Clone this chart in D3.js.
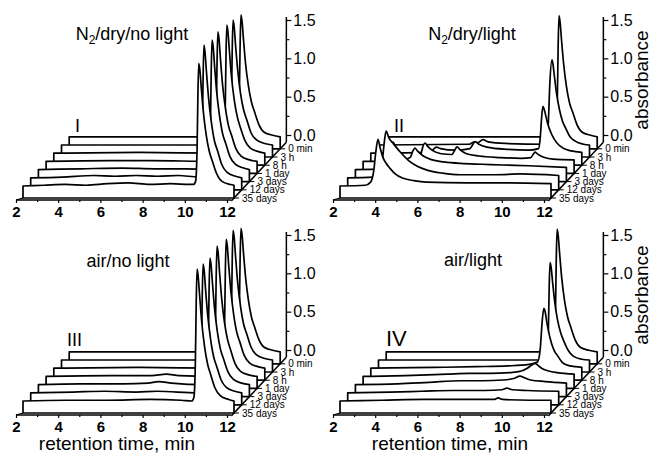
<!DOCTYPE html>
<html>
<head>
<meta charset="utf-8">
<script src="https://cdn.jsdelivr.net/npm/d3@7"></script>
<style>
body{margin:0;background:#fff}
svg{display:block}
text{font-family:"Liberation Sans",Arial,sans-serif;fill:#000}
</style>
</head>
<body>
<svg width="654" height="453"></svg>
<script>
// slices, back (0 min) to front (35 days)
var sliceLabels = ["0 min","3 h","8 h","1 day","3 days","12 days","35 days"];
var xTicks = [2,4,6,8,10,12];
var xMinor = [3,5,7,9,11];
var yTicks = [0,0.5,1.0,1.5];
var yMinor = [0.25,0.75,1.25];

// [retention time (min), absorbance]
var n2DryNoLight = [
 [[2,0],[9.89,0],[9.99,0.05],[10.06,0.48],[10.10,1.19],[10.14,1.59],[10.19,1.51],[10.26,1.27],[10.36,0.95],[10.49,0.67],[10.64,0.45],[10.79,0.32],[10.99,0.16],[11.24,0.06],[11.64,0.02],[12,0]],
 [[2,0],[9.88,0],[9.98,0.05],[10.05,0.49],[10.09,1.22],[10.13,1.63],[10.18,1.55],[10.25,1.30],[10.35,0.98],[10.48,0.68],[10.63,0.46],[10.78,0.33],[10.98,0.16],[11.23,0.07],[11.63,0.02],[12,0]],
 [[2,0],[6,0.01],[9.95,0],[10.05,0.05],[10.12,0.50],[10.16,1.25],[10.20,1.67],[10.25,1.59],[10.32,1.34],[10.42,1.00],[10.55,0.70],[10.70,0.47],[10.85,0.33],[11.05,0.17],[11.30,0.07],[11.70,0.02],[12,0]],
 [[2,0],[5,0.01],[7,0.01],[9.89,0],[9.99,0.05],[10.06,0.51],[10.10,1.27],[10.14,1.69],[10.19,1.61],[10.26,1.35],[10.36,1.01],[10.49,0.71],[10.64,0.47],[10.79,0.34],[10.99,0.17],[11.24,0.07],[11.64,0.02],[12,0]],
 [[2,0],[4,0.01],[6,0.02],[7.5,0.01],[9,0.01],[9.98,0],[10.08,0.05],[10.15,0.51],[10.19,1.27],[10.23,1.69],[10.28,1.61],[10.35,1.35],[10.45,1.01],[10.58,0.71],[10.73,0.47],[10.88,0.34],[11.08,0.17],[11.33,0.07],[11.73,0.02],[12,0]],
 [[2,0],[3.5,0.01],[5,0.03],[6,0.02],[7,0.03],[8,0.02],[9,0.03],[9.96,0.01],[10.06,0.05],[10.13,0.52],[10.17,1.30],[10.21,1.73],[10.26,1.64],[10.33,1.38],[10.43,1.04],[10.56,0.73],[10.71,0.48],[10.86,0.35],[11.06,0.17],[11.31,0.07],[11.71,0.02],[12,0]],
 [[2,0],[3,0.01],[4,0.02],[5,0.01],[6,0.03],[7,0.04],[8,0.02],[9,0.03],[9.9,0.02],[10.08,0.02],[10.18,0.06],[10.25,0.48],[10.29,1.20],[10.33,1.60],[10.38,1.52],[10.45,1.28],[10.55,0.96],[10.68,0.67],[10.83,0.45],[10.98,0.32],[11.18,0.16],[11.43,0.06],[11.83,0.02],[12,0.01]]
];

var n2DryLight = [
 [[2,0],[9.94,0],[10.04,0.05],[10.11,0.48],[10.15,1.19],[10.19,1.58],[10.24,1.50],[10.31,1.26],[10.41,0.95],[10.54,0.66],[10.69,0.44],[10.84,0.32],[11.04,0.16],[11.29,0.06],[11.69,0.02],[12,0]],
 [[2,0],[6.3,0.01],[6.55,0.04],[6.7,0.03],[6.95,0.07],[7.2,0.04],[8,0.02],[9.85,0.01],[9.97,0.04],[10.05,0.30],[10.12,0.80],[10.22,1.11],[10.27,1.05],[10.34,0.89],[10.44,0.67],[10.57,0.47],[10.72,0.31],[10.87,0.22],[11.07,0.11],[11.32,0.05],[11.72,0.01],[12,0]],
 [[2,0],[4.8,0.01],[5.0,0.06],[5.1,0.08],[5.3,0.06],[6.0,0.04],[6.7,0.06],[6.85,0.12],[6.94,0.15],[7.1,0.12],[7.5,0.08],[8.5,0.05],[9.5,0.04],[9.95,0.06],[10.03,0.20],[10.1,0.48],[10.16,0.61],[10.22,0.57],[10.3,0.48],[10.4,0.37],[10.55,0.26],[10.7,0.18],[10.9,0.11],[11.15,0.06],[11.5,0.03],[12,0.01]],
 [[2,0],[4.5,0.01],[4.7,0.05],[4.82,0.18],[4.93,0.24],[5.05,0.20],[5.3,0.14],[5.7,0.10],[6.2,0.09],[6.35,0.15],[6.45,0.19],[6.6,0.15],[6.9,0.10],[7.5,0.07],[8.5,0.05],[9.5,0.04],[9.95,0.05],[10.08,0.10],[10.15,0.12],[10.3,0.09],[10.6,0.05],[11,0.03],[12,0.02]],
 [[2,0],[3.3,0.01],[3.55,0.08],[3.68,0.25],[3.78,0.36],[3.9,0.30],[4.1,0.20],[4.4,0.14],[4.6,0.16],[4.72,0.24],[4.82,0.28],[4.95,0.24],[5.2,0.18],[5.6,0.13],[6.2,0.10],[7,0.08],[8,0.07],[9,0.06],[10.2,0.05],[12,0.03]],
 [[2,0],[3.2,0.01],[3.5,0.06],[3.65,0.25],[3.75,0.50],[3.82,0.61],[3.95,0.52],[4.15,0.45],[4.48,0.34],[4.95,0.21],[5.3,0.15],[5.76,0.10],[6.5,0.06],[7.32,0.04],[9,0.04],[10.2,0.05],[12,0.03]],
 [[2,0],[3.2,0.01],[3.45,0.05],[3.6,0.20],[3.7,0.45],[3.8,0.61],[3.9,0.50],[4.04,0.37],[4.2,0.29],[4.37,0.23],[4.6,0.16],[5.0,0.10],[5.5,0.07],[6.1,0.05],[8,0.04],[10,0.04],[12,0.03]]
];

var airNoLight = [
 [[2,0],[9.89,0],[9.99,0.05],[10.06,0.48],[10.10,1.21],[10.14,1.61],[10.19,1.53],[10.26,1.29],[10.36,0.97],[10.49,0.68],[10.64,0.45],[10.79,0.32],[10.99,0.16],[11.24,0.06],[11.64,0.02],[12,0]],
 [[2,0],[9.88,0],[9.98,0.05],[10.05,0.51],[10.09,1.27],[10.13,1.69],[10.18,1.61],[10.25,1.35],[10.35,1.01],[10.48,0.71],[10.63,0.47],[10.78,0.34],[10.98,0.17],[11.23,0.07],[11.63,0.02],[12,0]],
 [[2,0],[6,0.01],[9.92,0],[10.02,0.05],[10.09,0.50],[10.13,1.26],[10.17,1.68],[10.22,1.60],[10.29,1.34],[10.39,1.01],[10.52,0.71],[10.67,0.47],[10.82,0.34],[11.02,0.17],[11.27,0.07],[11.67,0.02],[12,0]],
 [[2,0],[5,0.01],[7,0.01],[7.7,0.03],[8.3,0.01],[9.85,0],[9.95,0.05],[10.02,0.51],[10.06,1.28],[10.10,1.70],[10.15,1.62],[10.22,1.36],[10.32,1.02],[10.45,0.71],[10.60,0.48],[10.75,0.34],[10.95,0.17],[11.20,0.07],[11.60,0.02],[12,0]],
 [[2,0],[4,0.01],[6,0.01],[7.2,0.02],[7.7,0.04],[8.3,0.02],[9.88,0],[9.98,0.05],[10.05,0.50],[10.09,1.24],[10.13,1.65],[10.18,1.57],[10.25,1.32],[10.35,0.99],[10.48,0.69],[10.63,0.46],[10.78,0.33],[10.98,0.17],[11.23,0.07],[11.63,0.02],[12,0]],
 [[2,0],[4,0.01],[5.5,0.02],[7,0.01],[8,0.02],[9.92,0],[10.02,0.05],[10.09,0.50],[10.13,1.26],[10.17,1.68],[10.22,1.60],[10.29,1.34],[10.39,1.01],[10.52,0.71],[10.67,0.47],[10.82,0.34],[11.02,0.17],[11.27,0.07],[11.67,0.02],[12,0]],
 [[2,0],[4,0.01],[6,0.01],[8,0.02],[9.5,0.01],[10.00,0],[10.10,0.05],[10.17,0.52],[10.21,1.29],[10.25,1.72],[10.30,1.63],[10.37,1.38],[10.47,1.03],[10.60,0.72],[10.75,0.48],[10.90,0.34],[11.10,0.17],[11.35,0.07],[11.75,0.02],[12,0]]
];

var airLight = [
 [[2,0],[9.85,0],[9.95,0.05],[10.02,0.48],[10.06,1.20],[10.10,1.60],[10.15,1.52],[10.22,1.28],[10.32,0.96],[10.45,0.67],[10.6,0.45],[10.75,0.32],[10.95,0.16],[11.2,0.06],[11.6,0.02],[12,0]],
 [[2,0],[9.88,0],[9.98,0.04],[10.05,0.38],[10.09,0.95],[10.13,1.27],[10.18,1.21],[10.25,1.02],[10.35,0.76],[10.48,0.53],[10.63,0.36],[10.78,0.25],[10.98,0.13],[11.23,0.05],[11.63,0.01],[12,0]],
 [[2,0],[5,0.01],[7,0.02],[8.5,0.03],[9.5,0.05],[9.9,0.08],[10.03,0.25],[10.12,0.60],[10.2,0.78],[10.26,0.74],[10.33,0.62],[10.43,0.47],[10.56,0.33],[10.71,0.22],[10.86,0.16],[11.06,0.08],[11.31,0.04],[11.7,0.02],[12,0.01]],
 [[2,0],[4,0.01],[6,0.03],[7,0.04],[8,0.04],[9,0.05],[9.5,0.07],[9.8,0.11],[10.0,0.15],[10.15,0.17],[10.3,0.14],[10.5,0.10],[10.8,0.07],[11.2,0.05],[12,0.03]],
 [[2,0],[4,0.01],[5.5,0.03],[7,0.05],[8,0.05],[9,0.06],[9.5,0.08],[9.8,0.11],[10.0,0.09],[10.3,0.06],[11,0.04],[12,0.02]],
 [[2,0],[4,0.01],[5.5,0.02],[7,0.03],[8.5,0.03],[9.3,0.04],[9.55,0.06],[9.8,0.04],[10.5,0.03],[12,0.02]],
 [[2,0],[4,0.01],[6,0.02],[8,0.02],[9.3,0.02],[9.5,0.04],[9.7,0.02],[11,0.01],[12,0.01]]
];

var panels = [
  {data: n2DryNoLight, ox: 0,   oy: 0,   title: ["N","2","/dry/no light"], tx: 132, ty: 40, num: "I",   nx: 75, ny: 132, ns: 18},
  {data: n2DryLight,   ox: 317, oy: 0,   title: ["N","2","/dry/light"],    tx: 155, ty: 40, num: "II",  nx: 77, ny: 132, ns: 18},
  {data: airNoLight,   ox: 0,   oy: 215, title: ["air/no light"],          tx: 128, ty: 52, num: "III", nx: 67, ny: 131, ns: 18},
  {data: airLight,     ox: 317, oy: 215, title: ["air/light"],             tx: 156, ty: 51, num: "IV",  nx: 69, ny: 131, ns: 22}
];

var DX = 7.7, DY = 8.2, SLAB = 12, BASE = 186, SHIFT = 7;

var x = d3.scaleLinear().domain([2,12]).range([16,227]);
var y = d3.scaleLinear().domain([0,1.5]).range([135,20]);
var svg = d3.select('svg');

panels.forEach(function(p, pi){
  var g = svg.append('g').attr('transform','translate(' + p.ox + ',' + p.oy + ')');

  // slices from back to front
  for (var k = 6; k >= 0; k--) {
    var base = BASE - DY*k;
    var off = SHIFT + DX*k;
    var area = d3.area()
      .curve(d3.curveMonotoneX)
      .x(function(d){ return x(d[0]) + off; })
      .y0(base + SLAB)
      .y1(function(d){ return base - (y(0) - y(d[1])); });
    g.append('path').datum(p.data[6-k])
      .attr('d', area)
      .attr('fill','white')
      .attr('stroke','black')
      .attr('stroke-width',1.7)
      .attr('stroke-linejoin','round');
  }

  // floor / x axis
  var xEnd = x(12) + SHIFT;
  g.append('line').attr('x1',x(2)).attr('y1',200).attr('x2',xEnd - 3).attr('y2',200)
    .attr('stroke','black').attr('stroke-width',1.5);
  g.append('line').attr('x1',x(2)).attr('y1',200).attr('x2',x(2)+SHIFT).attr('y2',BASE+SLAB)
    .attr('stroke','black').attr('stroke-width',1.2);

  var xa = g.append('g').attr('transform','translate(0,200)')
    .call(d3.axisBottom(x).tickValues(xTicks).tickSize(3).tickSizeOuter(0).tickPadding(3));
  xa.select('.domain').remove();
  xa.selectAll('text').attr('font-size',15).attr('font-weight','bold')
    .attr('font-family','"Liberation Sans",Arial,sans-serif');
  var xm = g.append('g').attr('transform','translate(0,200)')
    .call(d3.axisBottom(x).tickValues(xMinor).tickSize(2).tickSizeOuter(0).tickFormat(''));
  xm.select('.domain').remove();

  // depth axis
  var dx0 = xEnd, dy0 = BASE + SLAB;
  g.append('line')
    .attr('x1', dx0 - DX*0.35).attr('y1', dy0 + DY*0.35)
    .attr('x2', dx0 + DX*6.8).attr('y2', dy0 - DY*6.8)
    .attr('stroke','black').attr('stroke-width',1.5);
  sliceLabels.forEach(function(lab, i){
    var k = 6 - i;
    var px = dx0 + DX*k, py = dy0 - DY*k;
    g.append('line').attr('x1',px).attr('y1',py).attr('x2',px+5).attr('y2',py)
      .attr('stroke','black').attr('stroke-width',1);
    g.append('text').attr('x',px+8).attr('y',py+3.5)
      .attr('font-size',10).text(lab);
  });

  // absorbance axis
  var ax = dx0 + DX*6.8;
  g.append('line').attr('x1',ax).attr('y1',dy0 - DY*6.8).attr('x2',ax).attr('y2',y(1.5)-3)
    .attr('stroke','black').attr('stroke-width',1.5);
  var ya = g.append('g').attr('transform','translate(' + ax + ',0)')
    .call(d3.axisRight(y).tickValues(yTicks).tickSize(5).tickSizeOuter(0).tickPadding(2)
      .tickFormat(d3.format('.1f')));
  ya.select('.domain').remove();
  ya.selectAll('text').attr('font-size',16).attr('font-family','"Liberation Sans",Arial,sans-serif');
  var ym = g.append('g').attr('transform','translate(' + ax + ',0)')
    .call(d3.axisRight(y).tickValues(yMinor).tickSize(3).tickSizeOuter(0).tickFormat(''));
  ym.select('.domain').remove();
  g.selectAll('.tick line').attr('stroke-width',1.2);

  // title
  var t = g.append('text').attr('x',p.tx).attr('y',p.ty).attr('text-anchor','middle').attr('font-size',18);
  if (p.title.length === 3) {
    t.append('tspan').text(p.title[0]);
    t.append('tspan').attr('font-size',12).attr('dy',4).text(p.title[1]);
    t.append('tspan').attr('dy',-4).text(p.title[2]);
  } else {
    t.text(p.title[0]);
  }
  g.append('text').attr('x',p.nx).attr('y',p.ny).attr('font-size',p.ns).text(p.num);

  if (pi % 2 === 1) {
    g.append('text').attr('transform','translate(' + (ax + 44.5) + ',80) rotate(-90)')
      .attr('text-anchor','middle').attr('font-size',19).text('absorbance');
  }
  if (pi >= 2) {
    g.append('text').attr('x', pi === 2 ? 117 : 133).attr('y',235)
      .attr('text-anchor','middle').attr('font-size',19).text('retention time, min');
  }
});
</script>
</body>
</html>
